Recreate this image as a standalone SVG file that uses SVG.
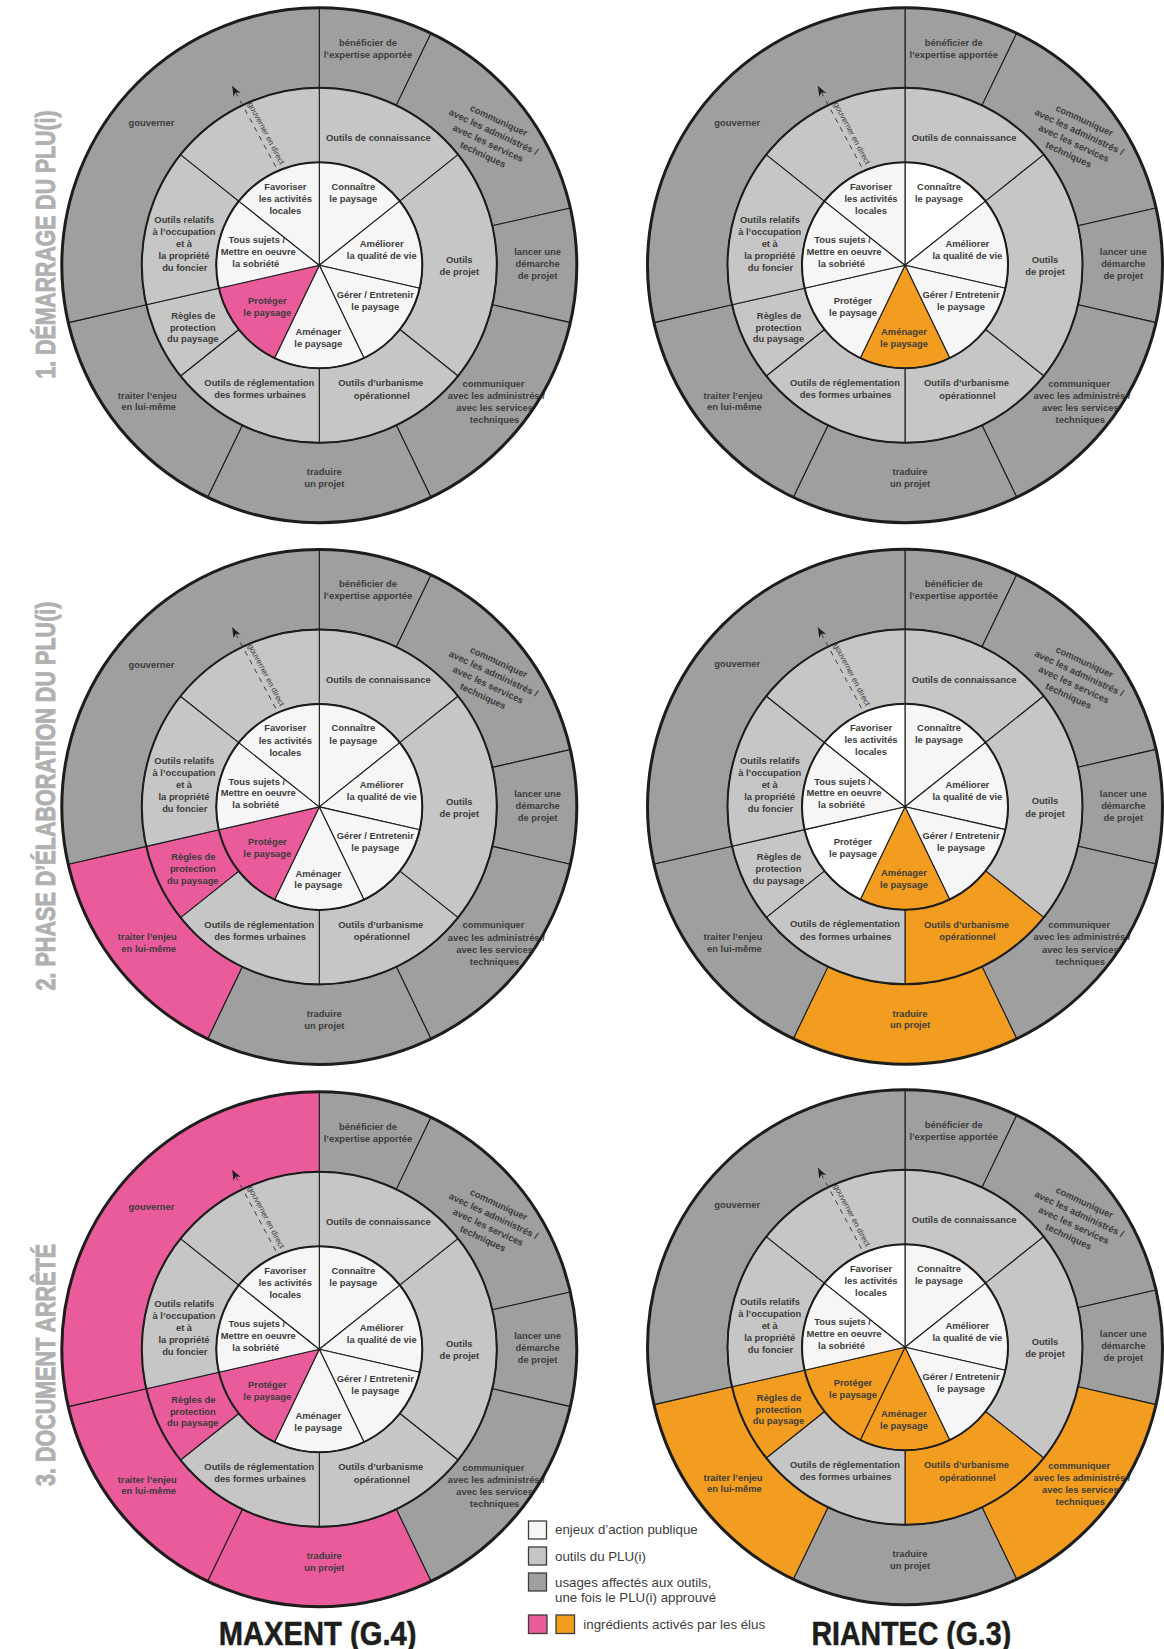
<svg xmlns="http://www.w3.org/2000/svg" xmlns:xlink="http://www.w3.org/1999/xlink" width="1164" height="1649" viewBox="0 0 1164 1649">
<style>
.seg{stroke:#1d1d1b;stroke-width:1.1;stroke-linejoin:round}
.fo{fill:#9f9f9f}.fm{fill:#c6c6c6}.fi{fill:#f6f6f6}.fw{fill:#ffffff}.fp{fill:#e95b9b}.fr{fill:#f29d1f}
.t{font-family:"Liberation Sans",Arial,sans-serif;font-weight:bold;font-size:9.4px;fill:#3c3c3b;text-anchor:middle}
.ring{fill:none;stroke:#1d1d1b;stroke-width:2}
.ring3{fill:none;stroke:#1d1d1b;stroke-width:3}
.dash{stroke:#3c3c3b;stroke-width:1;stroke-dasharray:5 5;fill:none}
.dl{font-family:"Liberation Sans",Arial,sans-serif;font-size:8px;fill:#3c3c3b;text-anchor:middle}
.side{font-family:"Liberation Sans Narrow","Liberation Sans",Arial,sans-serif;font-weight:bold;font-size:27px;fill:#b0b0b0;stroke:#b0b0b0;stroke-width:0.9;text-anchor:middle}
.title{font-family:"Liberation Sans Narrow","Liberation Sans",Arial,sans-serif;font-weight:bold;font-size:33px;fill:#1d1d1b;stroke:#1d1d1b;stroke-width:0.5;text-anchor:middle}
.lg{font-family:"Liberation Sans",Arial,sans-serif;font-size:13.3px;fill:#3c3c3b}
.box{stroke:#3c3c3b;stroke-width:1.3}
</style>
<defs>
<marker id="ah" viewBox="-11 -5 12 10" refX="0" refY="0" markerWidth="12" markerHeight="10" markerUnits="userSpaceOnUse" orient="auto">
<path d="M0,0 L-10,-4 L-7,0 L-10,4 Z" fill="#1d1d1b"/>
</marker>
<path id="i1" d="M0,0 L0,-103 A103,103 0 0 1 80.53,-64.22 Z"/>
<path id="i2" d="M0,0 L80.53,-64.22 A103,103 0 0 1 100.42,22.92 Z"/>
<path id="i3" d="M0,0 L100.42,22.92 A103,103 0 0 1 44.69,92.8 Z"/>
<path id="i4" d="M0,0 L44.69,92.8 A103,103 0 0 1 -44.69,92.8 Z"/>
<path id="i5" d="M0,0 L-44.69,92.8 A103,103 0 0 1 -100.42,22.92 Z"/>
<path id="i6" d="M0,0 L-100.42,22.92 A103,103 0 0 1 -80.53,-64.22 Z"/>
<path id="i7" d="M0,0 L-80.53,-64.22 A103,103 0 0 1 0,-103 Z"/>
<path id="m1" d="M0,-177.5 A177.5,177.5 0 0 1 138.77,-110.67 L80.53,-64.22 A103,103 0 0 0 0,-103 Z"/>
<path id="m2" d="M138.77,-110.67 A177.5,177.5 0 0 1 138.77,110.67 L80.53,64.22 A103,103 0 0 0 80.53,-64.22 Z"/>
<path id="m3" d="M138.77,110.67 A177.5,177.5 0 0 1 0,177.5 L0,103 A103,103 0 0 0 80.53,64.22 Z"/>
<path id="m4" d="M0,177.5 A177.5,177.5 0 0 1 -138.77,110.67 L-80.53,64.22 A103,103 0 0 0 0,103 Z"/>
<path id="m5" d="M-138.77,110.67 A177.5,177.5 0 0 1 -173.05,39.5 L-100.42,22.92 A103,103 0 0 0 -80.53,64.22 Z"/>
<path id="m6" d="M-173.05,39.5 A177.5,177.5 0 0 1 -138.77,-110.67 L-80.53,-64.22 A103,103 0 0 0 -100.42,22.92 Z"/>
<path id="m7" d="M-138.77,-110.67 A177.5,177.5 0 0 1 0,-177.5 L0,-103 A103,103 0 0 0 -80.53,-64.22 Z"/>
<path id="o1" d="M0,-257.5 A257.5,257.5 0 0 1 111.72,-232 L77.01,-159.92 A177.5,177.5 0 0 0 0,-177.5 Z"/>
<path id="o2" d="M111.72,-232 A257.5,257.5 0 0 1 251.04,-57.3 L173.05,-39.5 A177.5,177.5 0 0 0 77.01,-159.92 Z"/>
<path id="o3" d="M251.04,-57.3 A257.5,257.5 0 0 1 251.04,57.3 L173.05,39.5 A177.5,177.5 0 0 0 173.05,-39.5 Z"/>
<path id="o4" d="M251.04,57.3 A257.5,257.5 0 0 1 111.72,232 L77.01,159.92 A177.5,177.5 0 0 0 173.05,39.5 Z"/>
<path id="o5" d="M111.72,232 A257.5,257.5 0 0 1 -111.72,232 L-77.01,159.92 A177.5,177.5 0 0 0 77.01,159.92 Z"/>
<path id="o6" d="M-111.72,232 A257.5,257.5 0 0 1 -251.04,57.3 L-173.05,39.5 A177.5,177.5 0 0 0 -77.01,159.92 Z"/>
<path id="o7" d="M-251.04,57.3 A257.5,257.5 0 0 1 0,-257.5 L0,-177.5 A177.5,177.5 0 0 0 -173.05,39.5 Z"/>
<g id="rings"><circle class="ring" r="103"/><circle class="ring" r="177.5"/><circle class="ring3" r="257.5"/></g>
</defs>
<rect width="1164" height="1649" fill="#ffffff"/>

<!-- Chart 1 -->
<g id="c1" transform="translate(319.3,265.3)">
<g id="c1-o1"><use href="#o1" class="seg fo"/><text class="t"><tspan x="48.7" y="-219.5">bénéficier de</tspan><tspan x="48.7" y="-207.7">l’expertise apportée</tspan></text></g>
<g id="c1-o2"><use href="#o2" class="seg fo"/><text class="t" transform="translate(171.6,-127.9) rotate(25)"><tspan x="0" y="-15.4">communiquer</tspan><tspan x="0" y="-2.9">avec les administrés /</tspan><tspan x="0" y="9.6">avec les services</tspan><tspan x="0" y="22.1">techniques</tspan></text></g>
<g id="c1-o3"><use href="#o3" class="seg fo"/><text class="t"><tspan x="218.3" y="-10">lancer une</tspan><tspan x="218.3" y="2">démarche</tspan><tspan x="218.3" y="13.9">de projet</tspan></text></g>
<g id="c1-o4"><use href="#o4" class="seg fo"/><text class="t"><tspan x="174.2" y="121.5">communiquer</tspan><tspan x="177" y="133.7">avec les administrés /</tspan><tspan x="175.3" y="145.9">avec les services</tspan><tspan x="175.3" y="158.1">techniques</tspan></text></g>
<g id="c1-o5"><use href="#o5" class="seg fo"/><text class="t"><tspan x="5" y="210">traduire</tspan><tspan x="5" y="221.8">un projet</tspan></text></g>
<g id="c1-o6"><use href="#o6" class="seg fo"/><text class="t"><tspan x="-172" y="133.4">traiter l’enjeu</tspan><tspan x="-170.6" y="145.2">en lui-même</tspan></text></g>
<g id="c1-o7"><use href="#o7" class="seg fo"/><text class="t" x="-167.8" y="-139.4">gouverner</text></g>
<g id="c1-m1"><use href="#m1" class="seg fm"/><text class="t" x="59" y="-124.2">Outils de connaissance</text></g>
<g id="c1-m2"><use href="#m2" class="seg fm"/><text class="t"><tspan x="140" y="-2.3">Outils</tspan><tspan x="140" y="9.9">de projet</tspan></text></g>
<g id="c1-m3"><use href="#m3" class="seg fm"/><text class="t"><tspan x="61.5" y="121.2">Outils d’urbanisme</tspan><tspan x="62.5" y="133.4">opérationnel</tspan></text></g>
<g id="c1-m4"><use href="#m4" class="seg fm"/><text class="t"><tspan x="-60" y="120.7">Outils de réglementation</tspan><tspan x="-59.3" y="132.9">des formes urbaines</tspan></text></g>
<g id="c1-m5"><use href="#m5" class="seg fm"/><text class="t"><tspan x="-126" y="53.3">Règles de</tspan><tspan x="-126.5" y="65.3">protection</tspan><tspan x="-126.5" y="77.1">du paysage</tspan></text></g>
<g id="c1-m6"><use href="#m6" class="seg fm"/><text class="t"><tspan x="-135" y="-42.7">Outils relatifs</tspan><tspan x="-135.3" y="-30.7">à l’occupation</tspan><tspan x="-135.3" y="-18.7">et à</tspan><tspan x="-135.3" y="-6.7">la propriété</tspan><tspan x="-134.5" y="5.2">du foncier</tspan></text></g>
<g id="c1-m7"><use href="#m7" class="seg fm"/></g>
<g id="c1-i1"><use href="#i1" class="seg fi"/><text class="t"><tspan x="34" y="-75.5">Connaître</tspan><tspan x="34" y="-63.3">le paysage</tspan></text></g>
<g id="c1-i2"><use href="#i2" class="seg fi"/><text class="t"><tspan x="62.4" y="-18.5">Améliorer</tspan><tspan x="62.4" y="-6.5">la qualité de vie</tspan></text></g>
<g id="c1-i3"><use href="#i3" class="seg fi"/><text class="t"><tspan x="56" y="32.5">Gérer / Entretenir</tspan><tspan x="56" y="44.3">le paysage</tspan></text></g>
<g id="c1-i4"><use href="#i4" class="seg fi"/><text class="t"><tspan x="-1" y="69.8">Aménager</tspan><tspan x="-1" y="81.6">le paysage</tspan></text></g>
<g id="c1-i5"><use href="#i5" class="seg fp"/><text class="t"><tspan x="-52" y="38.5">Protéger</tspan><tspan x="-52" y="50.3">le paysage</tspan></text></g>
<g id="c1-i6"><use href="#i6" class="seg fi"/><text class="t"><tspan x="-62.5" y="-22.2">Tous sujets /</tspan><tspan x="-61" y="-10.5">Mettre en oeuvre</tspan><tspan x="-63.5" y="1.3">la sobriété</tspan></text></g>
<g id="c1-i7"><use href="#i7" class="seg fi"/><text class="t"><tspan x="-34" y="-75.5">Favoriser</tspan><tspan x="-34" y="-63.3">les activités</tspan><tspan x="-34" y="-51.3">locales</tspan></text></g>
<use href="#rings"/>
</g>

<!-- Chart 2 -->
<g id="c2" transform="translate(905,265.3)">
<g id="c2-o1"><use href="#o1" class="seg fo"/><text class="t"><tspan x="48.7" y="-219.5">bénéficier de</tspan><tspan x="48.7" y="-207.7">l’expertise apportée</tspan></text></g>
<g id="c2-o2"><use href="#o2" class="seg fo"/><text class="t" transform="translate(171.6,-127.9) rotate(25)"><tspan x="0" y="-15.4">communiquer</tspan><tspan x="0" y="-2.9">avec les administrés /</tspan><tspan x="0" y="9.6">avec les services</tspan><tspan x="0" y="22.1">techniques</tspan></text></g>
<g id="c2-o3"><use href="#o3" class="seg fo"/><text class="t"><tspan x="218.3" y="-10">lancer une</tspan><tspan x="218.3" y="2">démarche</tspan><tspan x="218.3" y="13.9">de projet</tspan></text></g>
<g id="c2-o4"><use href="#o4" class="seg fo"/><text class="t"><tspan x="174.2" y="121.5">communiquer</tspan><tspan x="177" y="133.7">avec les administrés /</tspan><tspan x="175.3" y="145.9">avec les services</tspan><tspan x="175.3" y="158.1">techniques</tspan></text></g>
<g id="c2-o5"><use href="#o5" class="seg fo"/><text class="t"><tspan x="5" y="210">traduire</tspan><tspan x="5" y="221.8">un projet</tspan></text></g>
<g id="c2-o6"><use href="#o6" class="seg fo"/><text class="t"><tspan x="-172" y="133.4">traiter l’enjeu</tspan><tspan x="-170.6" y="145.2">en lui-même</tspan></text></g>
<g id="c2-o7"><use href="#o7" class="seg fo"/><text class="t" x="-167.8" y="-139.4">gouverner</text></g>
<g id="c2-m1"><use href="#m1" class="seg fm"/><text class="t" x="59" y="-124.2">Outils de connaissance</text></g>
<g id="c2-m2"><use href="#m2" class="seg fm"/><text class="t"><tspan x="140" y="-2.3">Outils</tspan><tspan x="140" y="9.9">de projet</tspan></text></g>
<g id="c2-m3"><use href="#m3" class="seg fm"/><text class="t"><tspan x="61.5" y="121.2">Outils d’urbanisme</tspan><tspan x="62.5" y="133.4">opérationnel</tspan></text></g>
<g id="c2-m4"><use href="#m4" class="seg fm"/><text class="t"><tspan x="-60" y="120.7">Outils de réglementation</tspan><tspan x="-59.3" y="132.9">des formes urbaines</tspan></text></g>
<g id="c2-m5"><use href="#m5" class="seg fm"/><text class="t"><tspan x="-126" y="53.3">Règles de</tspan><tspan x="-126.5" y="65.3">protection</tspan><tspan x="-126.5" y="77.1">du paysage</tspan></text></g>
<g id="c2-m6"><use href="#m6" class="seg fm"/><text class="t"><tspan x="-135" y="-42.7">Outils relatifs</tspan><tspan x="-135.3" y="-30.7">à l’occupation</tspan><tspan x="-135.3" y="-18.7">et à</tspan><tspan x="-135.3" y="-6.7">la propriété</tspan><tspan x="-134.5" y="5.2">du foncier</tspan></text></g>
<g id="c2-m7"><use href="#m7" class="seg fm"/></g>
<g id="c2-i1"><use href="#i1" class="seg fw"/><text class="t"><tspan x="34" y="-75.5">Connaître</tspan><tspan x="34" y="-63.3">le paysage</tspan></text></g>
<g id="c2-i2"><use href="#i2" class="seg fi"/><text class="t"><tspan x="62.4" y="-18.5">Améliorer</tspan><tspan x="62.4" y="-6.5">la qualité de vie</tspan></text></g>
<g id="c2-i3"><use href="#i3" class="seg fi"/><text class="t"><tspan x="56" y="32.5">Gérer / Entretenir</tspan><tspan x="56" y="44.3">le paysage</tspan></text></g>
<g id="c2-i4"><use href="#i4" class="seg fr"/><text class="t"><tspan x="-1" y="69.8">Aménager</tspan><tspan x="-1" y="81.6">le paysage</tspan></text></g>
<g id="c2-i5"><use href="#i5" class="seg fi"/><text class="t"><tspan x="-52" y="38.5">Protéger</tspan><tspan x="-52" y="50.3">le paysage</tspan></text></g>
<g id="c2-i6"><use href="#i6" class="seg fi"/><text class="t"><tspan x="-62.5" y="-22.2">Tous sujets /</tspan><tspan x="-61" y="-10.5">Mettre en oeuvre</tspan><tspan x="-63.5" y="1.3">la sobriété</tspan></text></g>
<g id="c2-i7"><use href="#i7" class="seg fi"/><text class="t"><tspan x="-34" y="-75.5">Favoriser</tspan><tspan x="-34" y="-63.3">les activités</tspan><tspan x="-34" y="-51.3">locales</tspan></text></g>
<use href="#rings"/>
</g>

<!-- Chart 3 -->
<g id="c3" transform="translate(319.3,806.9)">
<g id="c3-o1"><use href="#o1" class="seg fo"/><text class="t"><tspan x="48.7" y="-219.5">bénéficier de</tspan><tspan x="48.7" y="-207.7">l’expertise apportée</tspan></text></g>
<g id="c3-o2"><use href="#o2" class="seg fo"/><text class="t" transform="translate(171.6,-127.9) rotate(25)"><tspan x="0" y="-15.4">communiquer</tspan><tspan x="0" y="-2.9">avec les administrés /</tspan><tspan x="0" y="9.6">avec les services</tspan><tspan x="0" y="22.1">techniques</tspan></text></g>
<g id="c3-o3"><use href="#o3" class="seg fo"/><text class="t"><tspan x="218.3" y="-10">lancer une</tspan><tspan x="218.3" y="2">démarche</tspan><tspan x="218.3" y="13.9">de projet</tspan></text></g>
<g id="c3-o4"><use href="#o4" class="seg fo"/><text class="t"><tspan x="174.2" y="121.5">communiquer</tspan><tspan x="177" y="133.7">avec les administrés /</tspan><tspan x="175.3" y="145.9">avec les services</tspan><tspan x="175.3" y="158.1">techniques</tspan></text></g>
<g id="c3-o5"><use href="#o5" class="seg fo"/><text class="t"><tspan x="5" y="210">traduire</tspan><tspan x="5" y="221.8">un projet</tspan></text></g>
<g id="c3-o6"><use href="#o6" class="seg fp"/><text class="t"><tspan x="-172" y="133.4">traiter l’enjeu</tspan><tspan x="-170.6" y="145.2">en lui-même</tspan></text></g>
<g id="c3-o7"><use href="#o7" class="seg fo"/><text class="t" x="-167.8" y="-139.4">gouverner</text></g>
<g id="c3-m1"><use href="#m1" class="seg fm"/><text class="t" x="59" y="-124.2">Outils de connaissance</text></g>
<g id="c3-m2"><use href="#m2" class="seg fm"/><text class="t"><tspan x="140" y="-2.3">Outils</tspan><tspan x="140" y="9.9">de projet</tspan></text></g>
<g id="c3-m3"><use href="#m3" class="seg fm"/><text class="t"><tspan x="61.5" y="121.2">Outils d’urbanisme</tspan><tspan x="62.5" y="133.4">opérationnel</tspan></text></g>
<g id="c3-m4"><use href="#m4" class="seg fm"/><text class="t"><tspan x="-60" y="120.7">Outils de réglementation</tspan><tspan x="-59.3" y="132.9">des formes urbaines</tspan></text></g>
<g id="c3-m5"><use href="#m5" class="seg fp"/><text class="t"><tspan x="-126" y="53.3">Règles de</tspan><tspan x="-126.5" y="65.3">protection</tspan><tspan x="-126.5" y="77.1">du paysage</tspan></text></g>
<g id="c3-m6"><use href="#m6" class="seg fm"/><text class="t"><tspan x="-135" y="-42.7">Outils relatifs</tspan><tspan x="-135.3" y="-30.7">à l’occupation</tspan><tspan x="-135.3" y="-18.7">et à</tspan><tspan x="-135.3" y="-6.7">la propriété</tspan><tspan x="-134.5" y="5.2">du foncier</tspan></text></g>
<g id="c3-m7"><use href="#m7" class="seg fm"/></g>
<g id="c3-i1"><use href="#i1" class="seg fi"/><text class="t"><tspan x="34" y="-75.5">Connaître</tspan><tspan x="34" y="-63.3">le paysage</tspan></text></g>
<g id="c3-i2"><use href="#i2" class="seg fi"/><text class="t"><tspan x="62.4" y="-18.5">Améliorer</tspan><tspan x="62.4" y="-6.5">la qualité de vie</tspan></text></g>
<g id="c3-i3"><use href="#i3" class="seg fi"/><text class="t"><tspan x="56" y="32.5">Gérer / Entretenir</tspan><tspan x="56" y="44.3">le paysage</tspan></text></g>
<g id="c3-i4"><use href="#i4" class="seg fi"/><text class="t"><tspan x="-1" y="69.8">Aménager</tspan><tspan x="-1" y="81.6">le paysage</tspan></text></g>
<g id="c3-i5"><use href="#i5" class="seg fp"/><text class="t"><tspan x="-52" y="38.5">Protéger</tspan><tspan x="-52" y="50.3">le paysage</tspan></text></g>
<g id="c3-i6"><use href="#i6" class="seg fi"/><text class="t"><tspan x="-62.5" y="-22.2">Tous sujets /</tspan><tspan x="-61" y="-10.5">Mettre en oeuvre</tspan><tspan x="-63.5" y="1.3">la sobriété</tspan></text></g>
<g id="c3-i7"><use href="#i7" class="seg fi"/><text class="t"><tspan x="-34" y="-75.5">Favoriser</tspan><tspan x="-34" y="-63.3">les activités</tspan><tspan x="-34" y="-51.3">locales</tspan></text></g>
<use href="#rings"/>
</g>

<!-- Chart 4 -->
<g id="c4" transform="translate(905,806.7)">
<g id="c4-o1"><use href="#o1" class="seg fo"/><text class="t"><tspan x="48.7" y="-219.5">bénéficier de</tspan><tspan x="48.7" y="-207.7">l’expertise apportée</tspan></text></g>
<g id="c4-o2"><use href="#o2" class="seg fo"/><text class="t" transform="translate(171.6,-127.9) rotate(25)"><tspan x="0" y="-15.4">communiquer</tspan><tspan x="0" y="-2.9">avec les administrés /</tspan><tspan x="0" y="9.6">avec les services</tspan><tspan x="0" y="22.1">techniques</tspan></text></g>
<g id="c4-o3"><use href="#o3" class="seg fo"/><text class="t"><tspan x="218.3" y="-10">lancer une</tspan><tspan x="218.3" y="2">démarche</tspan><tspan x="218.3" y="13.9">de projet</tspan></text></g>
<g id="c4-o4"><use href="#o4" class="seg fo"/><text class="t"><tspan x="174.2" y="121.5">communiquer</tspan><tspan x="177" y="133.7">avec les administrés /</tspan><tspan x="175.3" y="145.9">avec les services</tspan><tspan x="175.3" y="158.1">techniques</tspan></text></g>
<g id="c4-o5"><use href="#o5" class="seg fr"/><text class="t"><tspan x="5" y="210">traduire</tspan><tspan x="5" y="221.8">un projet</tspan></text></g>
<g id="c4-o6"><use href="#o6" class="seg fo"/><text class="t"><tspan x="-172" y="133.4">traiter l’enjeu</tspan><tspan x="-170.6" y="145.2">en lui-même</tspan></text></g>
<g id="c4-o7"><use href="#o7" class="seg fo"/><text class="t" x="-167.8" y="-139.4">gouverner</text></g>
<g id="c4-m1"><use href="#m1" class="seg fm"/><text class="t" x="59" y="-124.2">Outils de connaissance</text></g>
<g id="c4-m2"><use href="#m2" class="seg fm"/><text class="t"><tspan x="140" y="-2.3">Outils</tspan><tspan x="140" y="9.9">de projet</tspan></text></g>
<g id="c4-m3"><use href="#m3" class="seg fr"/><text class="t"><tspan x="61.5" y="121.2">Outils d’urbanisme</tspan><tspan x="62.5" y="133.4">opérationnel</tspan></text></g>
<g id="c4-m4"><use href="#m4" class="seg fm"/><text class="t"><tspan x="-60" y="120.7">Outils de réglementation</tspan><tspan x="-59.3" y="132.9">des formes urbaines</tspan></text></g>
<g id="c4-m5"><use href="#m5" class="seg fm"/><text class="t"><tspan x="-126" y="53.3">Règles de</tspan><tspan x="-126.5" y="65.3">protection</tspan><tspan x="-126.5" y="77.1">du paysage</tspan></text></g>
<g id="c4-m6"><use href="#m6" class="seg fm"/><text class="t"><tspan x="-135" y="-42.7">Outils relatifs</tspan><tspan x="-135.3" y="-30.7">à l’occupation</tspan><tspan x="-135.3" y="-18.7">et à</tspan><tspan x="-135.3" y="-6.7">la propriété</tspan><tspan x="-134.5" y="5.2">du foncier</tspan></text></g>
<g id="c4-m7"><use href="#m7" class="seg fm"/></g>
<g id="c4-i1"><use href="#i1" class="seg fi"/><text class="t"><tspan x="34" y="-75.5">Connaître</tspan><tspan x="34" y="-63.3">le paysage</tspan></text></g>
<g id="c4-i2"><use href="#i2" class="seg fi"/><text class="t"><tspan x="62.4" y="-18.5">Améliorer</tspan><tspan x="62.4" y="-6.5">la qualité de vie</tspan></text></g>
<g id="c4-i3"><use href="#i3" class="seg fi"/><text class="t"><tspan x="56" y="32.5">Gérer / Entretenir</tspan><tspan x="56" y="44.3">le paysage</tspan></text></g>
<g id="c4-i4"><use href="#i4" class="seg fr"/><text class="t"><tspan x="-1" y="69.8">Aménager</tspan><tspan x="-1" y="81.6">le paysage</tspan></text></g>
<g id="c4-i5"><use href="#i5" class="seg fw"/><text class="t"><tspan x="-52" y="38.5">Protéger</tspan><tspan x="-52" y="50.3">le paysage</tspan></text></g>
<g id="c4-i6"><use href="#i6" class="seg fi"/><text class="t"><tspan x="-62.5" y="-22.2">Tous sujets /</tspan><tspan x="-61" y="-10.5">Mettre en oeuvre</tspan><tspan x="-63.5" y="1.3">la sobriété</tspan></text></g>
<g id="c4-i7"><use href="#i7" class="seg fw"/><text class="t"><tspan x="-34" y="-75.5">Favoriser</tspan><tspan x="-34" y="-63.3">les activités</tspan><tspan x="-34" y="-51.3">locales</tspan></text></g>
<use href="#rings"/>
</g>

<!-- Chart 5 -->
<g id="c5" transform="translate(319.3,1349.3)">
<g id="c5-o1"><use href="#o1" class="seg fo"/><text class="t"><tspan x="48.7" y="-219.5">bénéficier de</tspan><tspan x="48.7" y="-207.7">l’expertise apportée</tspan></text></g>
<g id="c5-o2"><use href="#o2" class="seg fo"/><text class="t" transform="translate(171.6,-127.9) rotate(25)"><tspan x="0" y="-15.4">communiquer</tspan><tspan x="0" y="-2.9">avec les administrés /</tspan><tspan x="0" y="9.6">avec les services</tspan><tspan x="0" y="22.1">techniques</tspan></text></g>
<g id="c5-o3"><use href="#o3" class="seg fo"/><text class="t"><tspan x="218.3" y="-10">lancer une</tspan><tspan x="218.3" y="2">démarche</tspan><tspan x="218.3" y="13.9">de projet</tspan></text></g>
<g id="c5-o4"><use href="#o4" class="seg fo"/><text class="t"><tspan x="174.2" y="121.5">communiquer</tspan><tspan x="177" y="133.7">avec les administrés /</tspan><tspan x="175.3" y="145.9">avec les services</tspan><tspan x="175.3" y="158.1">techniques</tspan></text></g>
<g id="c5-o5"><use href="#o5" class="seg fp"/><text class="t"><tspan x="5" y="210">traduire</tspan><tspan x="5" y="221.8">un projet</tspan></text></g>
<g id="c5-o6"><use href="#o6" class="seg fp"/><text class="t"><tspan x="-172" y="133.4">traiter l’enjeu</tspan><tspan x="-170.6" y="145.2">en lui-même</tspan></text></g>
<g id="c5-o7"><use href="#o7" class="seg fp"/><text class="t" x="-167.8" y="-139.4">gouverner</text></g>
<g id="c5-m1"><use href="#m1" class="seg fm"/><text class="t" x="59" y="-124.2">Outils de connaissance</text></g>
<g id="c5-m2"><use href="#m2" class="seg fm"/><text class="t"><tspan x="140" y="-2.3">Outils</tspan><tspan x="140" y="9.9">de projet</tspan></text></g>
<g id="c5-m3"><use href="#m3" class="seg fm"/><text class="t"><tspan x="61.5" y="121.2">Outils d’urbanisme</tspan><tspan x="62.5" y="133.4">opérationnel</tspan></text></g>
<g id="c5-m4"><use href="#m4" class="seg fm"/><text class="t"><tspan x="-60" y="120.7">Outils de réglementation</tspan><tspan x="-59.3" y="132.9">des formes urbaines</tspan></text></g>
<g id="c5-m5"><use href="#m5" class="seg fp"/><text class="t"><tspan x="-126" y="53.3">Règles de</tspan><tspan x="-126.5" y="65.3">protection</tspan><tspan x="-126.5" y="77.1">du paysage</tspan></text></g>
<g id="c5-m6"><use href="#m6" class="seg fm"/><text class="t"><tspan x="-135" y="-42.7">Outils relatifs</tspan><tspan x="-135.3" y="-30.7">à l’occupation</tspan><tspan x="-135.3" y="-18.7">et à</tspan><tspan x="-135.3" y="-6.7">la propriété</tspan><tspan x="-134.5" y="5.2">du foncier</tspan></text></g>
<g id="c5-m7"><use href="#m7" class="seg fm"/></g>
<g id="c5-i1"><use href="#i1" class="seg fi"/><text class="t"><tspan x="34" y="-75.5">Connaître</tspan><tspan x="34" y="-63.3">le paysage</tspan></text></g>
<g id="c5-i2"><use href="#i2" class="seg fi"/><text class="t"><tspan x="62.4" y="-18.5">Améliorer</tspan><tspan x="62.4" y="-6.5">la qualité de vie</tspan></text></g>
<g id="c5-i3"><use href="#i3" class="seg fi"/><text class="t"><tspan x="56" y="32.5">Gérer / Entretenir</tspan><tspan x="56" y="44.3">le paysage</tspan></text></g>
<g id="c5-i4"><use href="#i4" class="seg fi"/><text class="t"><tspan x="-1" y="69.8">Aménager</tspan><tspan x="-1" y="81.6">le paysage</tspan></text></g>
<g id="c5-i5"><use href="#i5" class="seg fp"/><text class="t"><tspan x="-52" y="38.5">Protéger</tspan><tspan x="-52" y="50.3">le paysage</tspan></text></g>
<g id="c5-i6"><use href="#i6" class="seg fi"/><text class="t"><tspan x="-62.5" y="-22.2">Tous sujets /</tspan><tspan x="-61" y="-10.5">Mettre en oeuvre</tspan><tspan x="-63.5" y="1.3">la sobriété</tspan></text></g>
<g id="c5-i7"><use href="#i7" class="seg fi"/><text class="t"><tspan x="-34" y="-75.5">Favoriser</tspan><tspan x="-34" y="-63.3">les activités</tspan><tspan x="-34" y="-51.3">locales</tspan></text></g>
<use href="#rings"/>
</g>

<!-- Chart 6 -->
<g id="c6" transform="translate(905,1347.3)">
<g id="c6-o1"><use href="#o1" class="seg fo"/><text class="t"><tspan x="48.7" y="-219.5">bénéficier de</tspan><tspan x="48.7" y="-207.7">l’expertise apportée</tspan></text></g>
<g id="c6-o2"><use href="#o2" class="seg fo"/><text class="t" transform="translate(171.6,-127.9) rotate(25)"><tspan x="0" y="-15.4">communiquer</tspan><tspan x="0" y="-2.9">avec les administrés /</tspan><tspan x="0" y="9.6">avec les services</tspan><tspan x="0" y="22.1">techniques</tspan></text></g>
<g id="c6-o3"><use href="#o3" class="seg fo"/><text class="t"><tspan x="218.3" y="-10">lancer une</tspan><tspan x="218.3" y="2">démarche</tspan><tspan x="218.3" y="13.9">de projet</tspan></text></g>
<g id="c6-o4"><use href="#o4" class="seg fr"/><text class="t"><tspan x="174.2" y="121.5">communiquer</tspan><tspan x="177" y="133.7">avec les administrés /</tspan><tspan x="175.3" y="145.9">avec les services</tspan><tspan x="175.3" y="158.1">techniques</tspan></text></g>
<g id="c6-o5"><use href="#o5" class="seg fo"/><text class="t"><tspan x="5" y="210">traduire</tspan><tspan x="5" y="221.8">un projet</tspan></text></g>
<g id="c6-o6"><use href="#o6" class="seg fr"/><text class="t"><tspan x="-172" y="133.4">traiter l’enjeu</tspan><tspan x="-170.6" y="145.2">en lui-même</tspan></text></g>
<g id="c6-o7"><use href="#o7" class="seg fo"/><text class="t" x="-167.8" y="-139.4">gouverner</text></g>
<g id="c6-m1"><use href="#m1" class="seg fm"/><text class="t" x="59" y="-124.2">Outils de connaissance</text></g>
<g id="c6-m2"><use href="#m2" class="seg fm"/><text class="t"><tspan x="140" y="-2.3">Outils</tspan><tspan x="140" y="9.9">de projet</tspan></text></g>
<g id="c6-m3"><use href="#m3" class="seg fr"/><text class="t"><tspan x="61.5" y="121.2">Outils d’urbanisme</tspan><tspan x="62.5" y="133.4">opérationnel</tspan></text></g>
<g id="c6-m4"><use href="#m4" class="seg fm"/><text class="t"><tspan x="-60" y="120.7">Outils de réglementation</tspan><tspan x="-59.3" y="132.9">des formes urbaines</tspan></text></g>
<g id="c6-m5"><use href="#m5" class="seg fr"/><text class="t"><tspan x="-126" y="53.3">Règles de</tspan><tspan x="-126.5" y="65.3">protection</tspan><tspan x="-126.5" y="77.1">du paysage</tspan></text></g>
<g id="c6-m6"><use href="#m6" class="seg fm"/><text class="t"><tspan x="-135" y="-42.7">Outils relatifs</tspan><tspan x="-135.3" y="-30.7">à l’occupation</tspan><tspan x="-135.3" y="-18.7">et à</tspan><tspan x="-135.3" y="-6.7">la propriété</tspan><tspan x="-134.5" y="5.2">du foncier</tspan></text></g>
<g id="c6-m7"><use href="#m7" class="seg fm"/></g>
<g id="c6-i1"><use href="#i1" class="seg fi"/><text class="t"><tspan x="34" y="-75.5">Connaître</tspan><tspan x="34" y="-63.3">le paysage</tspan></text></g>
<g id="c6-i2"><use href="#i2" class="seg fi"/><text class="t"><tspan x="62.4" y="-18.5">Améliorer</tspan><tspan x="62.4" y="-6.5">la qualité de vie</tspan></text></g>
<g id="c6-i3"><use href="#i3" class="seg fi"/><text class="t"><tspan x="56" y="32.5">Gérer / Entretenir</tspan><tspan x="56" y="44.3">le paysage</tspan></text></g>
<g id="c6-i4"><use href="#i4" class="seg fr"/><text class="t"><tspan x="-1" y="69.8">Aménager</tspan><tspan x="-1" y="81.6">le paysage</tspan></text></g>
<g id="c6-i5"><use href="#i5" class="seg fr"/><text class="t"><tspan x="-52" y="38.5">Protéger</tspan><tspan x="-52" y="50.3">le paysage</tspan></text></g>
<g id="c6-i6"><use href="#i6" class="seg fi"/><text class="t"><tspan x="-62.5" y="-22.2">Tous sujets /</tspan><tspan x="-61" y="-10.5">Mettre en oeuvre</tspan><tspan x="-63.5" y="1.3">la sobriété</tspan></text></g>
<g id="c6-i7"><use href="#i7" class="seg fw"/><text class="t"><tspan x="-34" y="-75.5">Favoriser</tspan><tspan x="-34" y="-63.3">les activités</tspan><tspan x="-34" y="-51.3">locales</tspan></text></g>
<use href="#rings"/>
</g>

<!-- Connectors: "gouverner en direct" arrows -->
<g id="connectors">
<g id="arrow-c1" transform="translate(319.3,265.3)"><line class="dash" x1="-43.5" y1="-98.5" x2="-87" y2="-179.3" marker-end="url(#ah)"/><text class="dl" transform="translate(-53,-132) rotate(62.1)" y="2.7">gouverner en direct</text></g>
<g id="arrow-c2" transform="translate(905,265.3)"><line class="dash" x1="-43.5" y1="-98.5" x2="-87" y2="-179.3" marker-end="url(#ah)"/><text class="dl" transform="translate(-53,-132) rotate(62.1)" y="2.7">gouverner en direct</text></g>
<g id="arrow-c3" transform="translate(319.3,806.9)"><line class="dash" x1="-43.5" y1="-98.5" x2="-87" y2="-179.3" marker-end="url(#ah)"/><text class="dl" transform="translate(-53,-132) rotate(62.1)" y="2.7">gouverner en direct</text></g>
<g id="arrow-c4" transform="translate(905,806.7)"><line class="dash" x1="-43.5" y1="-98.5" x2="-87" y2="-179.3" marker-end="url(#ah)"/><text class="dl" transform="translate(-53,-132) rotate(62.1)" y="2.7">gouverner en direct</text></g>
<g id="arrow-c5" transform="translate(319.3,1349.3)"><line class="dash" x1="-43.5" y1="-98.5" x2="-87" y2="-179.3" marker-end="url(#ah)"/><text class="dl" transform="translate(-53,-132) rotate(62.1)" y="2.7">gouverner en direct</text></g>
<g id="arrow-c6" transform="translate(905,1347.3)"><line class="dash" x1="-43.5" y1="-98.5" x2="-87" y2="-179.3" marker-end="url(#ah)"/><text class="dl" transform="translate(-53,-132) rotate(62.1)" y="2.7">gouverner en direct</text></g>
</g>

<!-- Row labels -->
<g id="row-labels">
<text class="side" transform="translate(54.5,244.5) rotate(-90)" textLength="268" lengthAdjust="spacingAndGlyphs">1. DÉMARRAGE DU PLU(i)</text>
<text class="side" transform="translate(54.5,796) rotate(-90)" textLength="389" lengthAdjust="spacingAndGlyphs">2. PHASE D’ÉLABORATION DU PLU(i)</text>
<text class="side" transform="translate(54.5,1365) rotate(-90)" textLength="242" lengthAdjust="spacingAndGlyphs">3. DOCUMENT ARRÊTÉ</text>
</g>

<!-- Titles -->
<g id="titles">
<text class="title" x="317.6" y="1644.5" textLength="197.7" lengthAdjust="spacingAndGlyphs">MAXENT (G.4)</text>
<text class="title" x="911.3" y="1644.5" textLength="199.7" lengthAdjust="spacingAndGlyphs">RIANTEC (G.3)</text>
</g>

<!-- Legend -->
<g id="legend">
<rect class="box" x="528.5" y="1521" width="18" height="18" fill="#f6f6f6"/>
<text class="lg" x="555" y="1534">enjeux d’action publique</text>
<rect class="box" x="528.5" y="1547" width="18" height="18" fill="#c6c6c6"/>
<text class="lg" x="555" y="1561">outils du PLU(i)</text>
<rect class="box" x="528.5" y="1573" width="18" height="18" fill="#9f9f9f"/>
<text class="lg" x="555" y="1587.3">usages affectés aux outils,</text>
<text class="lg" x="555" y="1601.7">une fois le PLU(i) approuvé</text>
<rect class="box" x="528.5" y="1615" width="18.5" height="18.5" fill="#e95b9b"/>
<rect class="box" x="556" y="1615" width="18.5" height="18.5" fill="#f29d1f"/>
<text class="lg" x="583.3" y="1629.3">ingrédients activés par les élus</text>
</g>
</svg>
